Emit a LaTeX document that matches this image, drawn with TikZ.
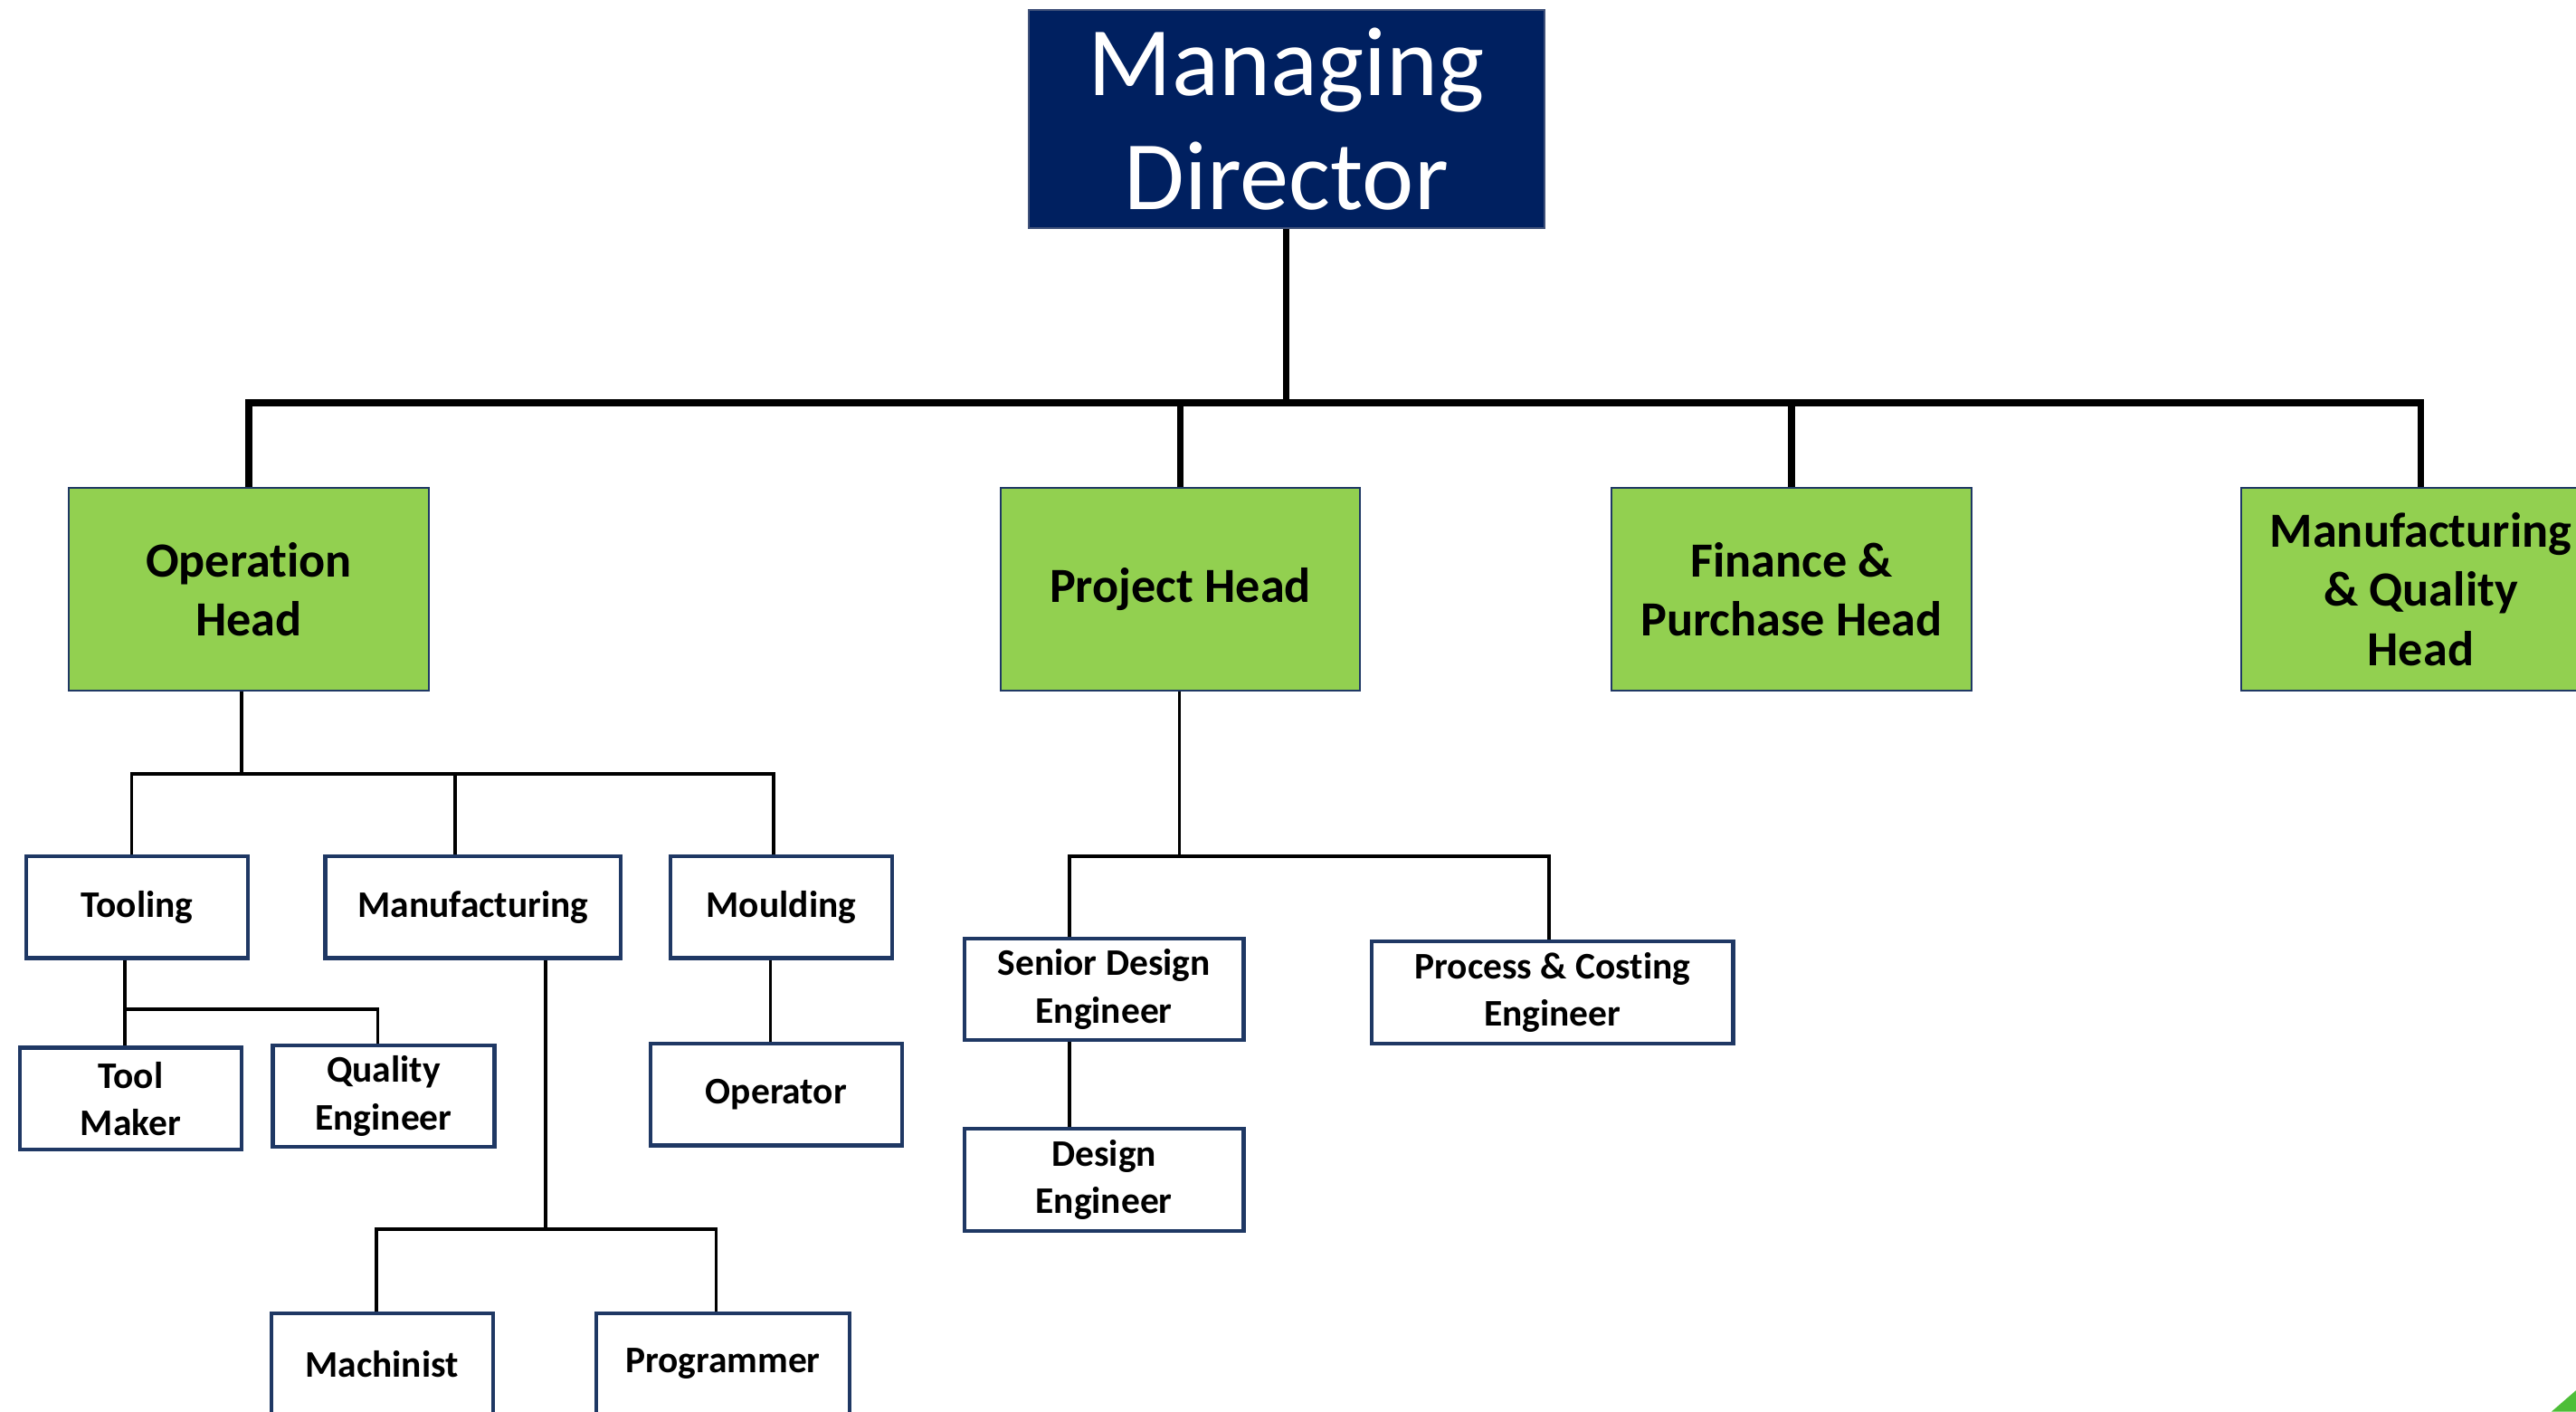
\documentclass[tikz,border=0pt]{standalone}
\usepackage{fontspec}
\setmainfont{Carlito}[Ligatures=NoCommon]
\usepackage{tikz}

\definecolor{mdblue}{HTML}{002060}
\definecolor{mdedge}{HTML}{41527A}
\definecolor{headgreen}{HTML}{92D050}
\definecolor{boxline}{HTML}{1F3864}
\definecolor{cornergreen}{HTML}{4DBE38}

\begin{document}
\begin{tikzpicture}[x=0.02cm,y=-0.02cm,
		mdbox/.style={draw=mdedge,line width=0.7pt,fill=mdblue,text=white,align=center,minimum width=6.28cm,minimum height=2.66cm,inner sep=0pt,font=\fontsize{34}{39.7}\selectfont},
		headbox/.style={draw=boxline,line width=0.6pt,fill=headgreen,align=center,minimum width=4.38cm,minimum height=2.46cm,inner sep=0pt,font=\fontsize{17}{20.5}\selectfont\bfseries},
		rolebox/.style={draw=boxline,line width=1.3pt,fill=white,align=center,minimum height=1.24cm,inner sep=0pt,font=\fontsize{13}{16.4}\selectfont\bfseries},
		mainline/.style={line width=2.3pt},
		subline/.style={line width=1.1pt}]
			\clip (0,0) rectangle (1568,859);
			\node[mdbox] (md) at (783,72.5) {Managing\\Director};
			\node[headbox] (oh) at (151.5,358.5) {Operation\\Head};
			\node[headbox] (ph) at (718.5,358.5) {Project Head};
			\node[headbox] (fp) at (1090.5,358.5) {Finance \&\\Purchase Head};
			\node[headbox] (mq) at (1473.5,358.5) {Manufacturing\\\& Quality\\Head};
			\coordinate (topbus) at (783,245);
			\draw[mainline] (md.south) -- (topbus);
			\draw[mainline] (oh.north) |- (topbus) -| (mq.north);
			\draw[mainline] (ph.north) -- (ph.north |- topbus);
			\draw[mainline] (fp.north) -- (fp.north |- topbus);
			\begin{scope}
				\node[rolebox,minimum width=2.7cm] (tool) at (83.5,552) {Tooling};
				\node[rolebox,minimum width=3.6cm] (manu) at (288,552) {Manufacturing};
				\node[rolebox,minimum width=2.7cm] (mould) at (475.5,552) {Moulding};
				\node[rolebox,minimum width=2.7cm] (tmaker) at (79.5,668.5) {Tool\\Maker};
				\node[rolebox,minimum width=2.7cm] (qeng) at (233.5,667) {Quality\\Engineer};
				\node[rolebox,minimum width=3.06cm] (oper) at (472.5,666) {Operator};
				\node[rolebox,minimum width=2.7cm] (mach) at (232.5,830) {Machinist};
				\node[rolebox,minimum width=3.08cm] (prog) at (440,830) {Programmer};
				\coordinate (opbus) at (147,471);
				\coordinate (toolbus) at (76,614);
				\coordinate (manubus) at (332,748);
				\draw[subline] (oh.south -| opbus) -- (opbus);
				\draw[subline] ([xshift=-0.07cm]tool.north) |- (opbus) -| ([xshift=-0.09cm]mould.north);
				\draw[subline] ([xshift=-0.22cm]manu.north) -- ([xshift=-0.22cm]manu.north |- opbus);
				\draw[subline] (tool.south -| toolbus) -- (tmaker.north -| toolbus);
				\draw[subline] (toolbus) -| ([xshift=-0.07cm]qeng.north);
				\draw[subline] ([xshift=-0.07cm]oper.north |- mould.south) -- ([xshift=-0.07cm]oper.north);
				\draw[subline] (manu.south -| manubus) -- (manubus);
				\draw[subline] ([xshift=-0.07cm]mach.north) |- (manubus) -| ([xshift=-0.08cm]prog.north);
			\end{scope}
			\begin{scope}
				\node[rolebox,minimum width=3.4cm] (sde) at (672,602) {Senior Design\\Engineer};
				\node[rolebox,minimum width=3.4cm] (de) at (672,718) {Design\\Engineer};
				\node[rolebox,minimum width=4.4cm] (pce) at (945,604) {Process \& Costing\\Engineer};
				\coordinate (pjbus) at (718,521);
				\coordinate (sdebus) at (651,521);
				\draw[subline] (ph.south -| pjbus) -- (pjbus);
				\draw[subline] (sde.north -| sdebus) |- (pjbus) -| ([xshift=-0.04cm]pce.north);
				\draw[subline] (sde.south -| sdebus) -- (de.north -| sdebus);
			\end{scope}
			\fill[cornergreen] (1553,859) -- (1568,846) -- (1568,859) -- cycle;
		\end{tikzpicture}
\end{document}
